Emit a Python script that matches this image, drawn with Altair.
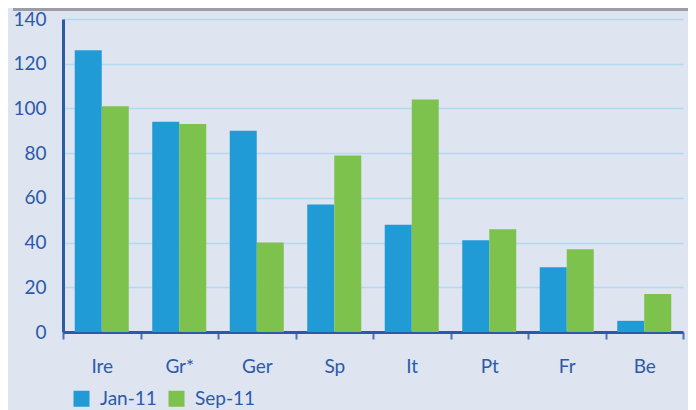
import altair as alt
import pandas as pd

countries = ["Ire", "Gr*", "Ger", "Sp", "It", "Pt", "Fr", "Be"]
series = ["Jan-11", "Sep-11"]
jan_11 = [126, 94, 90, 57, 48, 41, 29, 5]
sep_11 = [101, 93, 40, 79, 104, 46, 37, 17]
y_ticks = [0, 20, 40, 60, 80, 100, 120, 140]

rows = []
for c, a, b in zip(countries, jan_11, sep_11):
    rows.append({"country": c, "series": series[0], "value": a})
    rows.append({"country": c, "series": series[1], "value": b})
df = pd.DataFrame(rows)

BG = "#DFE4F1"
AXIS = "#2B5BA8"
FONT = "Lato"

bars = alt.Chart(df).mark_bar().encode(
    x=alt.X(
        "country:N",
        sort=countries,
        scale=alt.Scale(paddingInner=0, paddingOuter=0),
        axis=alt.Axis(
            title=None, labelAngle=0, tickBand="extent", grid=False,
            domainColor=AXIS, domainWidth=3, tickColor="#4A72B8", tickWidth=2,
            tickSize=7, labelPadding=18, labelFont=FONT, labelFontSize=19,
            labelColor=AXIS,
        ),
    ),
    xOffset=alt.XOffset(
        "series:N", sort=series,
        scale=alt.Scale(paddingOuter=0.435, paddingInner=0),
    ),
    y=alt.Y(
        "value:Q",
        scale=alt.Scale(domain=[0, 140], nice=False),
        axis=alt.Axis(
            title=None, values=y_ticks, grid=True, gridColor="#B0DAF2",
            gridWidth=1.5, domainColor=AXIS, domainWidth=3, ticks=False,
            labelPadding=17, labelFont=FONT, labelFontSize=19, labelColor=AXIS,
        ),
    ),
    color=alt.Color(
        "series:N",
        sort=series,
        scale=alt.Scale(domain=series, range=["#219BD6", "#7EC24E"]),
        legend=alt.Legend(
            title=None, orient="none", direction="horizontal",
            legendX=9, legendY=370, symbolType="square", symbolSize=256,
            symbolStrokeWidth=0, labelFont=FONT, labelFontSize=19,
            labelColor=AXIS, labelOffset=9, columnPadding=10, padding=0,
        ),
    ),
)

top_line = alt.Chart(df).mark_rule(color="#9A9CA8", strokeWidth=2.5, clip=False).encode(
    x=alt.value(-50), x2=alt.value(630), y=alt.value(-10)
)

chart = alt.layer(top_line, bars).properties(
    width=620,
    height=313,
    padding={"left": 55, "top": 11, "right": 5, "bottom": 80},
    autosize=alt.AutoSizeParams(type="none"),
    background=BG,
).configure_view(stroke=None)

chart.save("out.html", embed_options={"renderer": "svg", "actions": False})
